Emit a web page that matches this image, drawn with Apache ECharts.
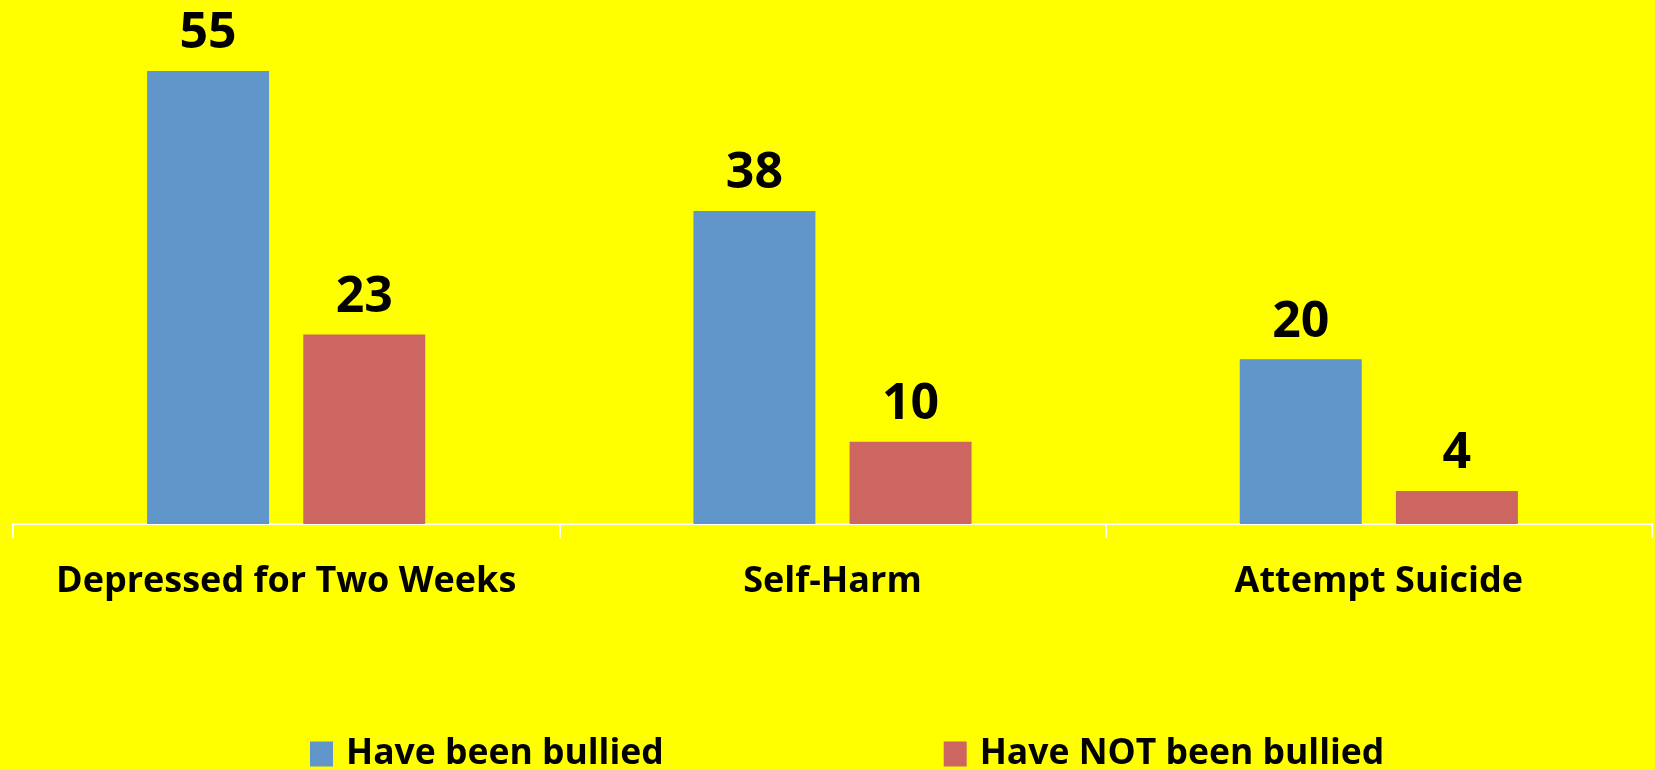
<!DOCTYPE html>
<html>
<head>
    <meta charset="utf-8">
    <title>Bullying Chart</title>
    <script src="https://cdn.jsdelivr.net/npm/echarts@6/dist/echarts.min.js"></script>
    <style>
        html, body { margin: 0; padding: 0; background: #ffff00; }
    </style>
</head>
<body>
    <div id="main" style="width: 1655px;height:770px;"></div>
    <script type="text/javascript">
        var categories = ["Depressed for Two Weeks", "Self-Harm", "Attempt Suicide"];
        var seriesNames = ["Have been bullied", "Have NOT been bullied"];
        var bullied = [55, 38, 20];
        var notBullied = [23, 10, 4];

        var myChart = echarts.init(document.getElementById('main'));
        var font = 'Open Sans';
        var colors = ['#6096c9', '#cd6660'];
        var values = [bullied, notBullied];

        var series = [];
        for (var i = 0; i < seriesNames.length; i++) {
            series.push({
                name: seriesNames[i],
                type: 'bar',
                data: values[i],
                barWidth: 122,
                barGap: '28%',
                itemStyle: { color: colors[i] },
                label: {
                    show: true,
                    position: 'top',
                    distance: 12,
                    color: '#000',
                    fontFamily: font,
                    fontWeight: 'bold',
                    fontSize: 50
                }
            });
        }

        var option = {
            backgroundColor: '#ffff00',
            animation: false,
            legend: {
                data: seriesNames,
                left: 310,
                top: 736,
                padding: 0,
                itemWidth: 23,
                itemHeight: 25,
                itemGap: 280,
                icon: 'rect',
                textStyle: {
                    color: '#000',
                    fontFamily: font,
                    fontWeight: 'bold',
                    fontSize: 35.5,
                    padding: [0, 0, 0, 8]
                }
            },
            grid: { left: 13, right: 3, top: 71, bottom: 246, containLabel: false },
            xAxis: {
                type: 'category',
                data: categories,
                axisLine: { lineStyle: { color: '#fff', width: 2 } },
                axisTick: { show: true, interval: 0, length: 14, lineStyle: { color: '#fff', width: 2 } },
                axisLabel: {
                    interval: 0,
                    margin: 40,
                    color: '#000',
                    fontFamily: font,
                    fontWeight: 'bold',
                    fontSize: 36
                }
            },
            yAxis: {
                type: 'value',
                min: 0,
                max: 55,
                show: false,
                splitLine: { show: false }
            },
            series: series
        };
        myChart.setOption(option);
    </script>
</body>
</html>
